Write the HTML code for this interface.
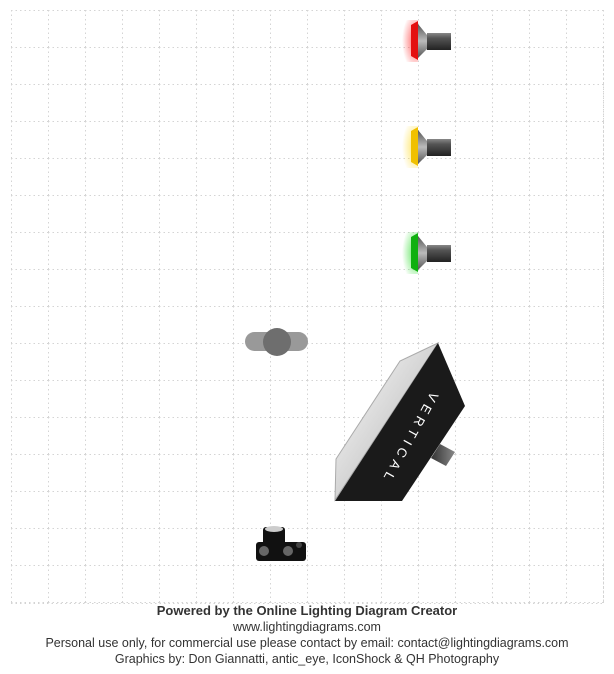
<!DOCTYPE html>
<html><head><style>
body{margin:0;width:614px;height:674px;background:#fff;overflow:hidden;font-family:"Liberation Sans",Arial,sans-serif}
.t{position:absolute;left:0;width:614px;text-align:center;font-size:12.5px;color:#333}
</style></head><body>
<svg width="614" height="674" style="position:absolute;left:0;top:0">
<defs>
<pattern id="g" x="11" y="10" width="37" height="37" patternUnits="userSpaceOnUse">
<path d="M0 0.5H37M0.5 0V37" stroke="#d4d4d4" stroke-dasharray="1.5,3" fill="none"/>
</pattern>
<linearGradient id="cyl" x1="0" y1="0" x2="0" y2="1"><stop offset="0" stop-color="#888"/><stop offset=".3" stop-color="#555"/><stop offset="1" stop-color="#222"/></linearGradient>
<linearGradient id="cone" x1="0" y1="0" x2="0" y2="1"><stop offset="0" stop-color="#555"/><stop offset=".5" stop-color="#bbb"/><stop offset="1" stop-color="#555"/></linearGradient>
<linearGradient id="wf" x1="0" y1="0" x2="1" y2="1"><stop offset="0" stop-color="#fff"/><stop offset="1" stop-color="#aaa"/></linearGradient>
<linearGradient id="hd" x1="0" y1="0" x2="1" y2="0"><stop offset="0" stop-color="#333"/><stop offset="1" stop-color="#888"/></linearGradient>
<radialGradient id="gr" cx=".9" cy=".5" r=".7"><stop offset="0" stop-color="#f33" stop-opacity=".8"/><stop offset="1" stop-color="#f33" stop-opacity="0"/></radialGradient>
<radialGradient id="gy" cx=".9" cy=".5" r=".7"><stop offset="0" stop-color="#fd3" stop-opacity=".8"/><stop offset="1" stop-color="#fd3" stop-opacity="0"/></radialGradient>
<radialGradient id="gg" cx=".9" cy=".5" r=".7"><stop offset="0" stop-color="#3d3" stop-opacity=".8"/><stop offset="1" stop-color="#3d3" stop-opacity="0"/></radialGradient>
<g id="lamp">
<path d="M418 24L427 35V49L418 58Z" fill="url(#cone)"/>
<rect x="427" y="33" width="24" height="17" fill="url(#cyl)"/>
</g>
</defs>
<rect x="11" y="10" width="593" height="593" fill="url(#g)"/>
<path d="M11 603.5H604M603.5 10V603" stroke="#d4d4d4" stroke-dasharray="1.5,3"/>
<rect x="398" y="20" width="20" height="42" fill="url(#gr)"/>
<path d="M411 25L418 21V60L411 56Z" fill="#e41010"/>
<use href="#lamp"/>
<rect x="398" y="126" width="20" height="42" fill="url(#gy)"/>
<path d="M411 131L418 127V166L411 162Z" fill="#f0c000"/>
<use href="#lamp" y="106"/>
<rect x="398" y="232" width="20" height="42" fill="url(#gg)"/>
<path d="M411 237L418 233V272L411 268Z" fill="#10b010"/>
<use href="#lamp" y="212"/>
<rect x="245" y="332" width="63" height="19" rx="9.5" fill="#999"/>
<circle cx="277" cy="342" r="14" fill="#6e6e6e"/>
<path d="M440 444L455 452L446 466L431 458Z" fill="url(#hd)"/>
<path d="M438 343L400 361L336 459L335 500Z" fill="url(#wf)" stroke="#aaa"/>
<path d="M438 343L465 406L402 501L335 501Z" fill="#1a1a1a"/>
<text transform="translate(409,438) rotate(119)" font-size="13" fill="#fff" letter-spacing="5" text-anchor="middle" dominant-baseline="middle" font-family="Liberation Sans,sans-serif">VERTICAL</text>
<rect x="263" y="527" width="22" height="20" rx="3" fill="#111"/>
<ellipse cx="274" cy="529" rx="9" ry="3" fill="#ccc"/>
<rect x="256" y="542" width="50" height="19" rx="3" fill="#111"/>
<circle cx="264" cy="551" r="5" fill="#666"/>
<circle cx="288" cy="551" r="5" fill="#666"/>
<circle cx="299" cy="545" r="3" fill="#444"/>
</svg>
<div class="t" style="top:603px;font-weight:bold;font-size:13px">Powered by the Online Lighting Diagram Creator</div>
<div class="t" style="top:620px">www.lightingdiagrams.com</div>
<div class="t" style="top:636px">Personal use only, for commercial use please contact by email: contact@lightingdiagrams.com</div>
<div class="t" style="top:652px">Graphics by: Don Giannatti, antic_eye, IconShock &amp; QH Photography</div>
</body></html>
